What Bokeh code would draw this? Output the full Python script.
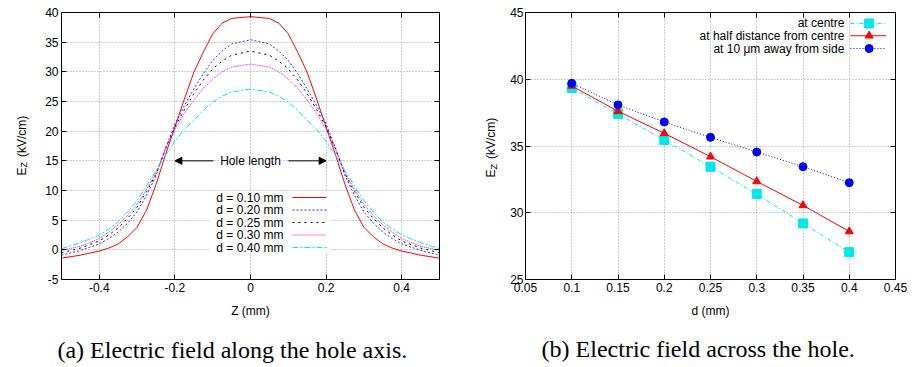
from math import pi
from bokeh.plotting import figure
from bokeh.models import (FixedTicker, Label, Arrow, NormalHead, BoxAnnotation, LinearAxis, Range1d,
                          CustomLabelingPolicy)
from bokeh.layouts import row
from bokeh.embed import file_html
from bokeh.resources import INLINE

# ---------------- data: (a) field along hole axis ----------------
z_mm = [-0.5, -0.45, -0.4, -0.375, -0.35, -0.325, -0.3, -0.275, -0.25, -0.225, -0.2, -0.175, -0.15,
        -0.125, -0.1, -0.075, -0.05, 0.0, 0.05, 0.075, 0.1, 0.125, 0.15, 0.175, 0.2, 0.225, 0.25,
        0.275, 0.3, 0.325, 0.35, 0.375, 0.4, 0.45, 0.5]
ez_d010 = [-1.4, -0.9, -0.2, 0.3, 1.0, 2.2, 3.8, 6.7, 11.0, 16.0, 20.7, 25.4, 29.9,
           33.3, 36.4, 38.2, 39.0, 39.3, 39.0, 38.2, 36.4, 33.3, 29.9, 25.4, 20.7, 16.0, 11.0,
           6.7, 3.8, 2.2, 1.0, 0.3, -0.2, -0.9, -1.4]
ez_d020 = [-0.9, -0.1, 1.0, 1.9, 3.0, 4.5, 6.4, 9.2, 12.5, 17.1, 21.2, 24.3, 27.1,
           29.7, 31.9, 33.5, 34.7, 35.4, 34.7, 33.5, 31.9, 29.7, 27.1, 24.3, 21.2, 17.1, 12.5,
           9.2, 6.4, 4.5, 3.0, 1.9, 1.0, -0.1, -0.9]
ez_d025 = [-0.5, 0.3, 1.5, 2.5, 3.7, 5.3, 7.2, 9.8, 12.8, 17.0, 20.7, 23.6, 26.3,
           28.6, 30.5, 31.8, 32.8, 33.5, 32.8, 31.8, 30.5, 28.6, 26.3, 23.6, 20.7, 17.0, 12.8,
           9.8, 7.2, 5.3, 3.7, 2.5, 1.5, 0.3, -0.5]
ez_d030 = [-0.1, 0.6, 1.9, 3.0, 4.2, 5.8, 7.7, 10.2, 13.0, 16.9, 20.3, 23.0, 25.2,
           27.2, 28.8, 30.0, 30.8, 31.3, 30.8, 30.0, 28.8, 27.2, 25.2, 23.0, 20.3, 16.9, 13.0,
           10.2, 7.7, 5.8, 4.2, 3.0, 1.9, 0.6, -0.1]
ez_d040 = [0.2, 1.2, 2.5, 3.5, 4.7, 6.4, 8.3, 10.8, 13.3, 15.9, 18.3, 20.3, 21.8,
           23.5, 24.9, 25.9, 26.6, 27.1, 26.6, 25.9, 24.9, 23.5, 21.8, 20.3, 18.3, 15.9, 13.3,
           10.8, 8.3, 6.4, 4.7, 3.5, 2.5, 1.2, 0.2]
a_labels = ["d = 0.10 mm", "d = 0.20 mm", "d = 0.25 mm", "d = 0.30 mm", "d = 0.40 mm"]
a_xticks = [-0.4, -0.2, 0.0, 0.2, 0.4]
a_xticklabels = ["-0.4", "-0.2", "0", "0.2", "0.4"]
a_yticks = [-5, 0, 5, 10, 15, 20, 25, 30, 35, 40]

# ---------------- data: (b) field across the hole ----------------
d_mm = [0.1, 0.15, 0.2, 0.25, 0.3, 0.35, 0.4]
ez_centre = [39.35, 37.4, 35.45, 33.45, 31.4, 29.2, 27.05]
ez_half = [39.5, 37.6, 35.95, 34.2, 32.35, 30.55, 28.6]
ez_side = [39.7, 38.08, 36.8, 35.65, 34.55, 33.45, 32.25]
b_labels = ["at centre", "at half distance from centre", "at 10 \u03bcm away from side"]
b_xticks = [0.05, 0.1, 0.15, 0.2, 0.25, 0.3, 0.35, 0.4, 0.45]
b_xticklabels = ["0.05", "0.1", "0.15", "0.2", "0.25", "0.3", "0.35", "0.4", "0.45"]
b_yticks = [25, 30, 35, 40, 45]

FONT = "Liberation Sans"
SERIF = "Liberation Serif"
FS = "12px"


def style(p, xticks, xlabels, yticks, xlabel, ystand):
    p.outline_line_color = "black"
    p.outline_line_width = 1
    p.outline_line_alpha = 1
    p.background_fill_color = "white"
    p.border_fill_color = "white"
    p.xaxis.ticker = FixedTicker(ticks=xticks)
    p.yaxis.ticker = FixedTicker(ticks=yticks)
    p.xgrid.ticker = FixedTicker(ticks=xticks)
    p.ygrid.ticker = FixedTicker(ticks=yticks)
    p.xaxis.major_label_overrides = {t: s for t, s in zip(xticks, xlabels)}
    p.yaxis.major_label_overrides = {t: str(t) for t in yticks}
    for ax in (p.xaxis, p.yaxis):
        ax.major_tick_in = 5
        ax.major_tick_out = 0
        ax.minor_tick_line_color = None
        ax.axis_line_color = None
        ax.major_tick_line_color = "black"
        ax.major_label_text_font = FONT
        ax.major_label_text_font_size = FS
        ax.major_label_text_color = "black"
        ax.axis_label_text_font = FONT
        ax.axis_label_text_font_size = FS
        ax.axis_label_text_font_style = "normal"
        ax.axis_label_text_color = "black"
    p.xaxis.major_label_standoff = 3
    p.yaxis.major_label_standoff = ystand
    p.xaxis.axis_label = xlabel
    p.xaxis.axis_label_standoff = 9
    for g in (p.xgrid, p.ygrid):
        g.grid_line_color = "#9a9a9a"
        g.grid_line_dash = "1 2"
        g.grid_line_width = 1
    # mirrored ticks (no labels) on top and right
    for ticks, side in ((xticks, "above"), (yticks, "right")):
        ax = LinearAxis(ticker=FixedTicker(ticks=ticks), major_tick_in=5, major_tick_out=0,
                        major_label_standoff=0, minor_tick_line_color=None, axis_line_color=None,
                        major_label_policy=CustomLabelingPolicy(code="return new Set()"))
        p.add_layout(ax, side)


def ylabel(p, x_e, x_z, y_e, y_z, y_rest):
    kw = dict(angle=pi / 2, text_font=FONT, text_color="black",
              text_baseline="alphabetic", text_align="left")
    p.add_layout(Label(x=x_e, y=y_e, text="E", text_font_size=FS, **kw), "left")
    p.add_layout(Label(x=x_z, y=y_z, text="Z", text_font_size="9px", **kw), "left")
    p.add_layout(Label(x=x_e, y=y_rest, text="(kV/cm)", text_font_size=FS, **kw), "left")


# ---------------- figure (a) ----------------
pa = figure(width=456, height=365, x_range=Range1d(-0.5, 0.5), y_range=Range1d(-5, 40),
            output_backend="svg", toolbar_location=None,
            min_border_left=61, min_border_right=17, min_border_top=12, min_border_bottom=86)
style(pa, a_xticks, a_xticklabels, a_yticks, "Z (mm)", 3)
ylabel(pa, -0.6058, -0.598, 12.53, 13.87, 15.65)

a_series = [ez_d010, ez_d020, ez_d025, ez_d030, ez_d040]
a_colors = ["#ff0000", "#3030ff", "#000000", "#ff00ff", "#00e8e8"]
a_dash = ["solid", "2 2", "2 4", "1 1", "6 2 2 2"]

pa.add_layout(BoxAnnotation(left=-0.11, right=0.21, bottom=-0.5, top=9.9,
                            fill_color="white", fill_alpha=1, line_color=None, level="underlay"))

for ys, c, dsh in zip(a_series, a_colors, a_dash):
    pa.line(z_mm, ys, line_color=c, line_width=1, line_dash=dsh)

leg_y = [8.82, 6.71, 4.6, 2.5, 0.39]
for lab, c, dsh, ly in zip(a_labels, a_colors, a_dash, leg_y):
    pa.line([0.111, 0.201], [ly, ly], line_color=c, line_width=1, line_dash=dsh)
    pa.add_layout(Label(x=0.087, y=ly, text=lab, text_align="right", text_baseline="middle",
                        text_font=FONT, text_font_size=FS, text_color="black"))

pa.add_layout(Label(x=0, y=15, text="Hole length", text_align="center", text_baseline="middle",
                    text_font=FONT, text_font_size=FS, text_color="black",
                    background_fill_color="white", background_fill_alpha=1))
pa.add_layout(Arrow(end=NormalHead(size=7, fill_color="black", line_color="black"),
                    x_start=-0.098, y_start=15, x_end=-0.2, y_end=15, line_width=1))
pa.add_layout(Arrow(end=NormalHead(size=7, fill_color="black", line_color="black"),
                    x_start=0.1, y_start=15, x_end=0.2, y_end=15, line_width=1))
pa.add_layout(Label(x=-0.048, y=-16.8, text="(a) Electric field along the hole axis.",
                    text_align="center", text_baseline="alphabetic", text_font=SERIF,
                    text_font_size="24px", text_color="black"), "below")

# ---------------- figure (b) ----------------
pb = figure(width=454, height=365, x_range=Range1d(0.05, 0.45), y_range=Range1d(25, 45),
            output_backend="svg", toolbar_location=None,
            min_border_left=69, min_border_right=10, min_border_top=12, min_border_bottom=86)
style(pb, b_xticks, b_xticklabels, b_yticks, "d (mm)", 2)
ylabel(pb, 0.0127, 0.0159, 32.64, 33.24, 34.02)

b_series = [ez_centre, ez_half, ez_side]
b_colors = ["#00e8e8", "#ff0000", "#0000ff"]
b_dash = ["4 2 1 2", "solid", "1 2"]
b_marker = ["square", "triangle", "circle"]
b_size = [9, 8, 8]

for ys, c, dsh, m, s in zip(b_series, b_colors, b_dash, b_marker, b_size):
    pb.line(d_mm, ys, line_color=c, line_width=1, line_dash=dsh)
    pb.scatter(d_mm, ys, marker=m, size=s, fill_color=c, line_color=c)

bleg_y = [44.18, 43.26, 42.3]
for lab, c, dsh, m, s, ly in zip(b_labels, b_colors, b_dash, b_marker, b_size, bleg_y):
    pb.line([0.4013, 0.4397], [ly, ly], line_color=c, line_width=1, line_dash=dsh)
    pb.scatter([0.4215], [ly], marker=m, size=s, fill_color=c, line_color=c)
    pb.add_layout(Label(x=0.3947, y=ly, text=lab, text_align="right", text_baseline="middle",
                        text_font=FONT, text_font_size=FS, text_color="black"))

pb.add_layout(Label(x=0.2367, y=19.76, text="(b) Electric field across the hole.",
                    text_align="center", text_baseline="alphabetic", text_font=SERIF,
                    text_font_size="24px", text_color="black"), "below")

layout = row(pa, pb)
open("out.html", "w").write(file_html(layout, INLINE))
